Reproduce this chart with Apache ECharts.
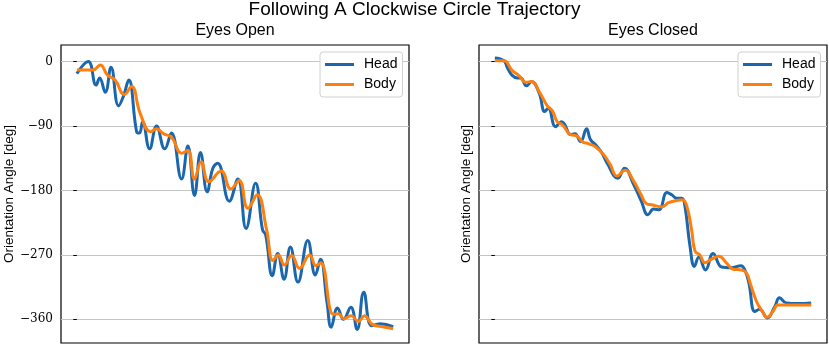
<!DOCTYPE html>
<html>
<head>
<meta charset="utf-8">
<script src="https://cdn.jsdelivr.net/npm/echarts@6/dist/echarts.min.js"></script>
<style>
  html, body { margin: 0; padding: 0; background: #fff; }
  #chart { width: 829px; height: 346px; }
</style>
</head>
<body>
<div id="chart"></div>
<script>
document.addEventListener('DOMContentLoaded', function() {

    // time (arbitrary units, 0..100) and orientation angle [deg]
    const openHead = [
        [0, -17], [3.6, 0], [6.1, -33], [7.2, -23], [9.0, -43], [10.8, -8], [13.2, -62],
        [14.7, -49], [16.4, -26], [18.9, -98], [19.8, -100], [20.8, -84], [23.0, -122],
        [25.2, -90], [27.8, -122], [29.9, -100], [33.1, -164], [35.1, -118], [37.2, -187],
        [39.1, -127], [41.2, -182], [43.0, -149], [44.5, -142], [48.2, -195], [50.9, -164],
        [53.5, -233], [56.5, -170], [58.7, -235], [59.7, -242], [61.8, -299], [63.5, -268],
        [65.5, -304], [67.5, -259], [69.9, -308], [73.0, -250], [75.4, -298], [77.0, -276],
        [79.1, -337], [80.4, -371], [82.4, -344], [84.3, -360], [86.6, -343], [88.6, -374],
        [90.7, -322], [93.2, -369], [95.8, -366], [100, -370]
    ];
    const openBody = [
        [0, -12], [5.1, -12], [7.4, -5], [9.7, -19], [12.1, -26], [15.0, -46], [17.3, -35],
        [20.0, -72], [23.3, -98], [25.2, -94], [27.5, -101], [30.0, -106], [33.1, -128],
        [35.1, -124], [37.2, -164], [39.3, -140], [41.7, -168], [45.6, -153], [48.7, -178],
        [51.3, -166], [54.1, -205], [57.0, -186], [60.0, -235], [62.0, -278], [63.7, -270],
        [65.6, -284], [67.9, -271], [70.4, -289], [73.6, -270], [75.6, -285], [77.1, -281],
        [81.1, -353], [82.7, -352], [84.4, -359], [86.7, -355], [89.0, -363], [90.9, -355],
        [93.4, -367], [96.1, -370], [100, -373]
    ];
    const closedHead = [
        [0, 5], [2.9, 1], [4.0, -9], [5.4, -19], [7.1, -23], [8.2, -23], [10.0, -34],
        [11.6, -28], [14.0, -44], [15.8, -70], [16.9, -65], [19.2, -91], [21.1, -84],
        [22.1, -88], [23.9, -102], [25.3, -101], [27.1, -112], [29.0, -94], [30.2, -109],
        [31.8, -116], [33.9, -128], [35.5, -142], [38.9, -163], [41.0, -149], [43.9, -172],
        [46.3, -195], [48.4, -214], [50.2, -206], [51.9, -207], [54.4, -183], [55.9, -186],
        [57.5, -191], [59.1, -191], [60.1, -202], [61.7, -258], [63.1, -286], [64.5, -273],
        [66.6, -291], [69.0, -268], [71.7, -287], [74.6, -288], [77.8, -285], [79.2, -293],
        [80.3, -309], [82.2, -349], [83.7, -346], [86.1, -358], [88.5, -342], [90.0, -330],
        [92.1, -337], [95.8, -338], [100, -337]
    ];
    const closedBody = [
        [0, 1], [2.9, 1], [5.4, -12], [7.7, -20], [9.8, -29], [11.6, -28], [14.0, -42],
        [16.6, -62], [18.2, -69], [19.7, -84], [21.3, -88], [23.9, -102], [26.0, -104],
        [27.6, -112], [29.7, -115], [31.8, -119], [34.4, -130], [36.5, -144], [38.6, -160],
        [41.2, -152], [43.9, -167], [46.0, -184], [48.1, -199], [49.6, -200], [52.8, -203],
        [54.9, -197], [57.5, -194], [59.3, -193], [60.7, -202], [62.2, -235], [63.3, -265],
        [64.8, -270], [66.4, -281], [68.5, -276], [70.8, -272], [73.2, -281], [75.3, -290],
        [78.0, -291], [79.5, -295], [80.9, -312], [82.7, -335], [84.3, -347], [86.1, -357],
        [87.9, -349], [89.5, -340], [92.1, -340], [100, -340]
    ];

    const yTicks = [0, -90, -180, -270, -360];
    const panelTitles = ['Eyes Open', 'Eyes Closed'];
    const seriesNames = ['Head', 'Body'];
    const colors = ['#1a67ad', '#ff7f0e'];

    const sans = 'Liberation Sans';
    const gridLefts = [61, 479];

    const xAxis = (i) => ({
        type: 'value',
        gridIndex: i,
        min: -5,
        max: 105,
        axisLine: { show: false },
        axisTick: { show: false },
        axisLabel: { show: false },
        splitLine: { show: false }
    });

    const yAxis = (i) => ({
        type: 'value',
        gridIndex: i,
        min: -393,
        max: 23,
        name: 'Orientation Angle [deg]',
        nameLocation: 'middle',
        nameGap: i === 0 ? 45 : 6,
        nameTextStyle: { fontFamily: sans, fontSize: 13.5, color: '#000' },
        axisLine: { show: false },
        axisTick: {
            show: true,
            inside: false,
            length: 3.5,
            customValues: yTicks,
            lineStyle: { color: '#000', width: 1 }
        },
        axisLabel: {
            show: i === 0,
            margin: 8,
            customValues: yTicks,
            fontFamily: 'DejaVu Serif',
            fontSize: 12,
            color: '#000',
            formatter: v => v < 0 ? '\u2212' + (-v) : String(v)
        },
        splitLine: {
            show: true,
            lineStyle: { color: '#c4c4c4', width: 1.2 }
        }
    });

    const line = (name, data, i, color) => ({
        name: name,
        type: 'line',
        xAxisIndex: i,
        yAxisIndex: i,
        data: data,
        smooth: 0.45,
        symbol: 'none',
        lineStyle: { color: color, width: 3 },
        itemStyle: { color: color },
        animation: false
    });

    const legend = (i) => ({
        left: i === 0 ? 320 : 738,
        top: 52,
        orient: 'vertical',
        data: seriesNames,
        icon: 'rect',
        itemWidth: 29,
        itemHeight: 3,
        itemGap: 5,
        padding: [5, 5, 5, 5],
        backgroundColor: '#fff',
        borderColor: '#d0d0d0',
        borderWidth: 1,
        borderRadius: 3,
        textStyle: {
            fontFamily: sans,
            fontSize: 14,
            color: '#000',
            lineHeight: 15,
            padding: [0, 0, 0, 5]
        }
    });

    const chart = echarts.init(document.getElementById('chart'));
    chart.setOption({
        animation: false,
        title: [
            {
                text: 'Following A Clockwise Circle Trajectory',
                left: 'center',
                top: 0,
                padding: [0, 0, 0, 0],
                textStyle: { fontFamily: sans, fontSize: 19, fontWeight: 'normal', color: '#000' }
            },
            {
                text: panelTitles[0],
                left: 235,
                textAlign: 'center',
                top: 23,
                padding: [0, 0, 0, 0],
                textStyle: { fontFamily: sans, fontSize: 16, fontWeight: 'normal', color: '#000' }
            },
            {
                text: panelTitles[1],
                left: 653,
                textAlign: 'center',
                top: 23,
                padding: [0, 0, 0, 0],
                textStyle: { fontFamily: sans, fontSize: 16, fontWeight: 'normal', color: '#000' }
            }
        ],
        legend: [legend(0), legend(1)],
        grid: gridLefts.map(l => ({
            left: l,
            top: 45,
            width: 348,
            height: 298,
            show: true,
            borderColor: '#000',
            borderWidth: 1.2,
            backgroundColor: 'transparent'
        })),
        xAxis: [xAxis(0), xAxis(1)],
        yAxis: [yAxis(0), yAxis(1)],
        series: [
            line(seriesNames[0], openHead, 0, colors[0]),
            line(seriesNames[1], openBody, 0, colors[1]),
            line(seriesNames[0], closedHead, 1, colors[0]),
            line(seriesNames[1], closedBody, 1, colors[1])
        ]
    });

});
</script>
</body>
</html>
